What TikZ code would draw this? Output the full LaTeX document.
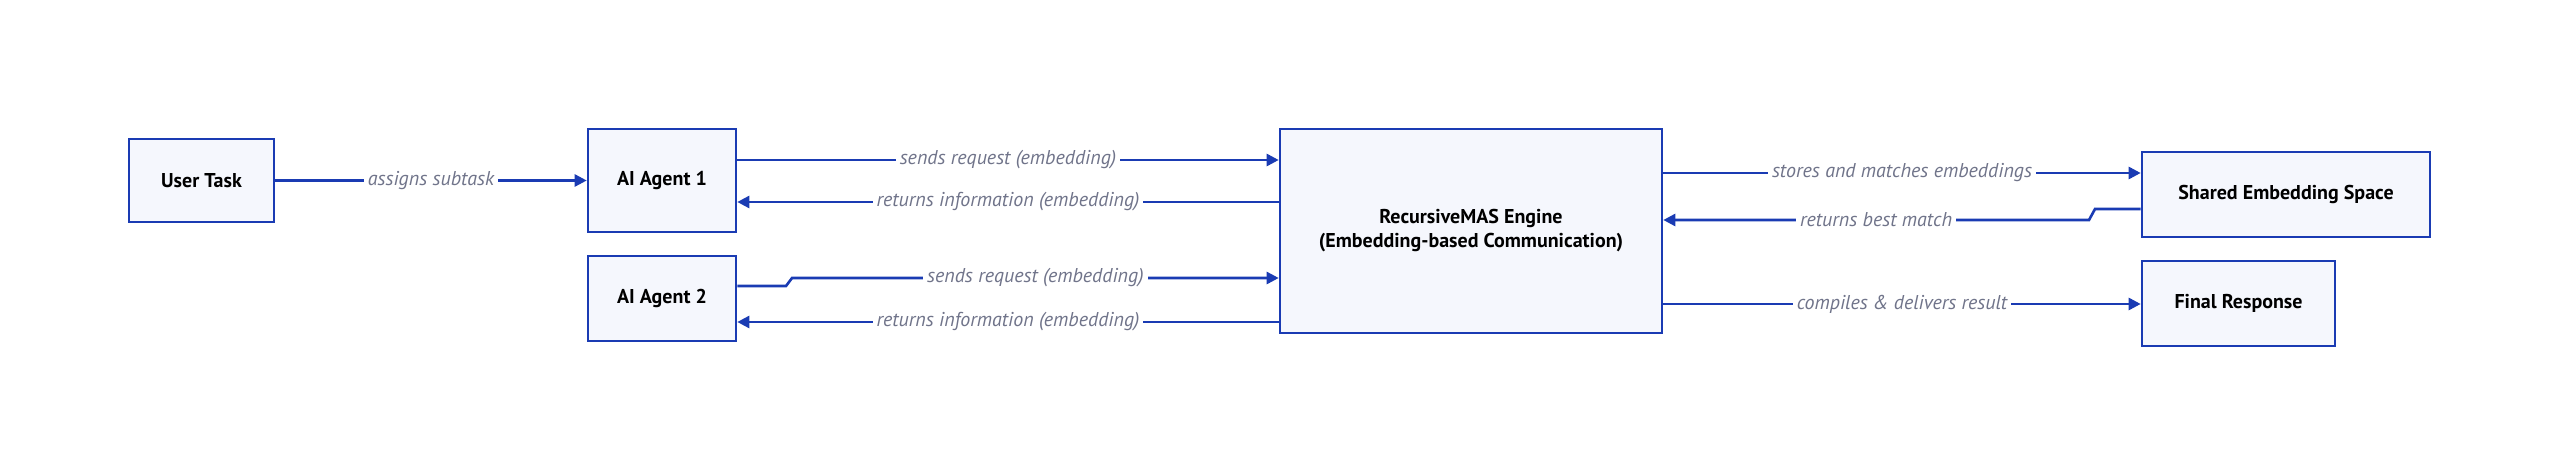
\documentclass[tikz,border=0pt]{standalone}
\usepackage{fontspec}
\setmainfont{PT Sans}
\usetikzlibrary{arrows.meta}
\definecolor{bl}{HTML}{1A3BB3}
\definecolor{bg}{HTML}{F5F7FD}
\definecolor{lb}{HTML}{70748A}
\begin{document}
\begin{tikzpicture}[x=0.5pt,y=-0.5pt,
 box/.style={draw=bl,line width=1.3pt,fill=bg,font=\bfseries\fontsize{10}{12}\selectfont,align=center,inner sep=0pt},
 conn/.style={draw=bl,line width=1.3pt,-{Triangle[length=6pt,width=6pt]}},
 lab/.style={fill=white,font=\itshape\fontsize{10}{12}\selectfont,text=lb,inner sep=2pt}]
\useasboundingbox (0,0) rectangle (2560,476);
\node[box,minimum width=72.5pt,minimum height=41.5pt] (ut) at (201.5,180.5) {User Task};
\node[box,minimum width=74pt,minimum height=51.5pt] (a1) at (662,180.5) {AI Agent 1};
\node[box,minimum width=74pt,minimum height=42.5pt] (a2) at (662,298.5) {AI Agent 2};
\node[box,minimum width=191pt,minimum height=102pt] (en) at (1471,231) {RecursiveMAS Engine\\(Embedding-based Communication)};
\node[box,minimum width=144pt,minimum height=42.5pt] (se) at (2286,194.5) {Shared Embedding Space};
\node[box,minimum width=96.5pt,minimum height=42.5pt] (fr) at (2238.5,303.5) {Final Response};
\draw[conn] (ut.east) -- node[lab]{assigns subtask} (ut.east -| a1.west);
\draw[conn] (a1.east |- 0,160) -- node[lab]{sends request (embedding)} (en.west |- 0,160);
\draw[conn] (en.west |- 0,202) -- node[lab]{returns information (embedding)} (a1.east |- 0,202);
\coordinate (j1) at (786,286);
\coordinate (j2) at (792,278);
\draw[conn] (a2.east |- 0,286) -- (j1) -- (j2) -- node[lab]{sends request (embedding)} (en.west |- 0,278);
\draw[conn] (en.west |- 0,322) -- node[lab]{returns information (embedding)} (a2.east |- 0,322);
\draw[conn] (en.east |- 0,173) -- node[lab]{stores and matches embeddings} (se.west |- 0,173);
\coordinate (k1) at (2095,209);
\coordinate (k2) at (2089,220);
\draw[conn] (se.west |- 0,209) -- (k1) -- (k2) -- node[lab]{returns best match} (en.east |- 0,220);
\draw[conn] (en.east |- 0,304) -- node[lab]{compiles \& delivers result} (fr.west |- 0,304);
\end{tikzpicture}
\end{document}
